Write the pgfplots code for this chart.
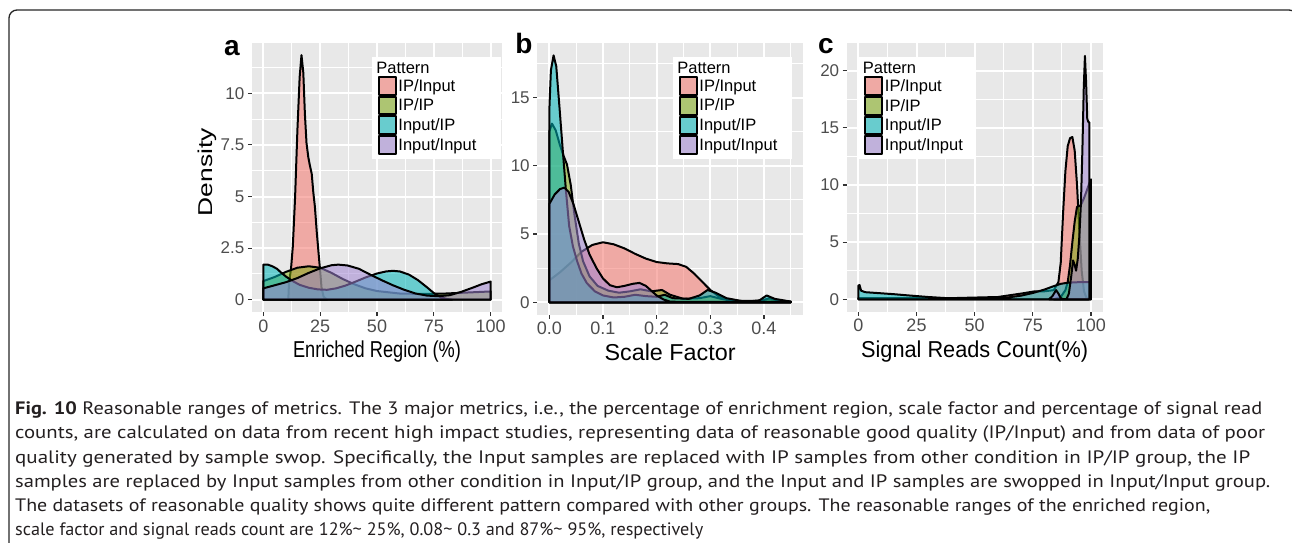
\documentclass[border=0pt]{standalone}
\usepackage{fontspec}
\setmainfont{Liberation Sans}
\newfontfamily\capfont{PT Sans}
\usepackage{graphicx}
\usepackage{pgfplots}
\pgfplotsset{compat=1.18}

\definecolor{panelbg}{RGB}{232,232,232}
\definecolor{ipinput}{HTML}{F5766D}
\definecolor{ipip}{HTML}{7DAA12}
\definecolor{inputip}{HTML}{00B6BA}
\definecolor{inputinput}{HTML}{A084D2}
\definecolor{tickgrey}{RGB}{51,51,51}
\definecolor{labelgrey}{RGB}{77,77,77}
\definecolor{captext}{RGB}{35,31,32}

\newcommand\capsize{\capfont\fontsize{18}{18}\selectfont}

\pgfplotsset{
  density panel/.style={
    scale only axis, enlargelimits=false, clip=true,
    axis background/.style={fill=panelbg},
    axis line style={draw=none},
    xmajorgrids, ymajorgrids, xminorgrids, yminorgrids,
    major grid style={white, line width=2pt},
    minor grid style={white, line width=1pt},
    tick align=outside, tick pos=left,
    major tick length=4pt, minor tick length=0pt,
    major tick style={tickgrey, line width=1.2pt},
    xticklabel style={font=\fontsize{18}{18}\selectfont, text=labelgrey},
    yticklabel style={font=\fontsize{17}{17}\selectfont, text=labelgrey},
    legend cell align=left,
    legend style={draw=none, fill=white, anchor=north west,
      font=\fontsize{16.5}{17}\selectfont, inner xsep=6pt, inner ysep=4pt,
      row sep=0pt, nodes={inner xsep=1.5pt, inner ysep=1.3pt}},
    legend image code/.code={
      \fill[panelbg, fill opacity=1] (0pt,-8.8pt) rectangle (17pt,8.8pt);
      \draw[##1] (0pt,-8.8pt) rectangle (17pt,8.8pt);},
  },
  kde/.style={draw=black, line width=2pt, line join=round, fill opacity=0.55, fill=#1},
}

\begin{document}
\begin{tikzpicture}
\useasboundingbox (0pt,0pt) rectangle (1292pt,-542pt);
\clip (0pt,0pt) rectangle (1292pt,-542pt);

% frame
\draw[line width=1.3pt, black!85, rounded corners=8pt]
  (9pt,-600pt) -- (9pt,-10pt) -- (1297pt,-10pt) -- (1297pt,-600pt);

% ---------- a: enriched region ----------
\begin{axis}[density panel,
  at={(251.9pt,-42.9pt)}, anchor=north west,
  width=250.2pt, height=269.2pt,
  xmin=-5, xmax=105, ymin=-0.6, ymax=12.44,
  xtick={0,25,50,75,100}, xticklabels={0,25,50,75,100},
  minor xtick={12.5,37.5,62.5,87.5},
  ytick={0,2.5,5,7.5,10}, yticklabels={0,2.5,5,7.5,10},
  minor ytick={1.25,3.75,6.25,8.75,11.25},
  xlabel={\resizebox{168pt}{\height}{\fontsize{23}{23}\selectfont Enriched Region (\%)}},
  xlabel style={at={(axis description cs:0.5,-0.148)}, anchor=center, inner sep=0pt},
  ylabel={\resizebox{88pt}{\height}{\fontsize{20}{20}\selectfont Density}},
  ylabel style={at={(axis description cs:-0.1775,0.52)}, anchor=center, inner sep=0pt},
  legend style={at={(axis description cs:0.479,0.949)}},
  legend entries={\hspace*{-22pt}Pattern,IP/Input,IP/IP,Input/IP,Input/Input\hspace*{17pt}},
]
\addlegendimage{empty legend}
\addplot[kde=ipinput] table {
x y
11 0
11.3 0.8
12.2 1.5
13 2.6
14 5.0
15 8.2
16 10.8
16.8 11.85
17.6 11.0
18.3 9.0
19 7.6
19.8 6.9
20.5 6.5
21.3 6.1
22 5.2
22.7 4.5
23.5 3.3
24.2 2.4
25 1.4
25.6 0.6
26.5 0.15
28 0
} \closedcycle;
\addplot[kde=ipip] table {
x y
0 0
0 0.9
5 1.1
10 1.35
15 1.55
20 1.62
25 1.55
30 1.3
35 1.0
40 0.75
45 0.55
50 0.42
60 0.3
70 0.28
80 0.3
90 0.35
100 0.4
100 0
} \closedcycle;
\addplot[kde=inputip] table {
x y
0 0
0 1.7
2 1.7
4 1.62
6 1.5
8 1.3
10 1.12
13 0.9
16 0.72
20 0.58
24 0.5
28 0.48
32 0.55
36 0.68
40 0.85
45 1.08
50 1.27
54 1.37
57 1.4
60 1.37
64 1.22
68 0.95
72 0.6
75 0.32
78 0.12
81 0.03
83 0
} \closedcycle;
\addplot[kde=inputinput] table {
x y
0 0
0 0.55
5 0.7
10 0.85
15 1.05
20 1.3
25 1.52
30 1.67
33 1.7
37 1.66
42 1.5
47 1.22
52 0.95
57 0.7
62 0.48
67 0.3
72 0.2
77 0.17
82 0.22
87 0.38
92 0.58
96 0.75
100 0.88
100 0
} \closedcycle;
\end{axis}

% ---------- b: scale factor ----------
\begin{axis}[density panel,
  at={(537.2pt,-43.1pt)}, anchor=north west,
  width=265.7pt, height=271.5pt,
  xmin=-0.0225, xmax=0.4725, ymin=-0.905, ymax=19.0,
  xtick={0,0.1,0.2,0.3,0.4}, xticklabels={0.0,0.1,0.2,0.3,0.4},
  minor xtick={0.05,0.15,0.25,0.35,0.45},
  ytick={0,5,10,15}, yticklabels={0,5,10,15},
  minor ytick={2.5,7.5,12.5,17.5},
  xlabel={\resizebox{131pt}{\height}{\fontsize{23}{23}\selectfont Scale Factor}},
  xlabel style={at={(axis description cs:0.5,-0.138)}, anchor=center, inner sep=0pt},
  legend style={at={(axis description cs:0.51,0.95)}},
  legend entries={\hspace*{-22pt}Pattern,IP/Input,IP/IP,Input/IP,Input/Input\hspace*{7pt}},
]
\addlegendimage{empty legend}
\addplot[kde=ipinput] table {
x y
0 0
0 1.6
0.02 2.2
0.04 2.9
0.06 3.7
0.08 4.2
0.1 4.4
0.12 4.25
0.14 3.95
0.16 3.55
0.18 3.2
0.2 2.95
0.22 2.85
0.24 2.8
0.255 2.6
0.27 2.1
0.285 1.5
0.3 0.9
0.315 0.45
0.33 0.2
0.35 0.1
0.38 0.1
0.41 0.2
0.43 0.1
0.45 0.05
0.45 0
} \closedcycle;
\addplot[kde=ipip] table {
x y
0 0
0 12.5
0.005 13.1
0.012 12.6
0.02 11.5
0.027 10.7
0.033 10.1
0.04 8.6
0.047 6.4
0.055 4.3
0.063 3.0
0.075 1.9
0.09 1.2
0.11 0.85
0.13 0.7
0.15 0.8
0.17 0.95
0.19 0.8
0.21 0.9
0.225 0.55
0.25 0.25
0.28 0.3
0.3 0.45
0.32 0.25
0.35 0.05
0.39 0.05
0.41 0.3
0.43 0.1
0.45 0.02
0.45 0
} \closedcycle;
\addplot[kde=inputip] table {
x y
0 0
0 14
0.003 17
0.008 18.1
0.013 17.3
0.019 14.3
0.025 11.2
0.031 8.2
0.037 5.6
0.044 4.1
0.052 3.0
0.06 2.1
0.07 1.4
0.085 0.8
0.1 0.5
0.12 0.35
0.14 0.4
0.16 0.55
0.18 0.45
0.2 0.4
0.215 0.55
0.23 0.3
0.26 0.25
0.28 0.5
0.295 0.9
0.31 0.7
0.33 0.3
0.36 0.08
0.39 0.1
0.405 0.5
0.42 0.25
0.45 0.05
0.45 0
} \closedcycle;
\addplot[kde=inputinput] table {
x y
0 0
0 7.2
0.01 7.9
0.02 8.3
0.028 8.4
0.036 8.1
0.045 7.2
0.055 5.9
0.065 4.6
0.075 3.5
0.088 2.5
0.1 1.75
0.113 1.25
0.126 1.1
0.14 1.2
0.155 1.35
0.168 1.42
0.18 1.2
0.19 0.85
0.2 0.5
0.213 0.2
0.225 0.05
0.25 0.02
0.35 0.02
0.45 0.02
0.45 0
} \closedcycle;
\end{axis}

% ---------- c: signal reads count ----------
\begin{axis}[density panel,
  at={(846.7pt,-42.5pt)}, anchor=north west,
  width=255.9pt, height=269pt,
  xmin=-5, xmax=105, ymin=-1.07, ymax=22.47,
  xtick={0,25,50,75,100}, xticklabels={0,25,50,75,100},
  minor xtick={12.5,37.5,62.5,87.5},
  ytick={0,5,10,15,20}, yticklabels={0,5,10,15,20},
  minor ytick={2.5,7.5,12.5,17.5},
  xlabel={\resizebox{227pt}{\height}{\fontsize{23}{23}\selectfont Signal Reads Count(\%)}},
  xlabel style={at={(axis description cs:0.5,-0.1506)}, anchor=center, inner sep=0pt},
  legend style={at={(axis description cs:0.045,0.947)}},
  legend entries={\hspace*{-22pt}Pattern,IP/Input,IP/IP,Input/IP,Input/Input\hspace*{4pt}},
]
\addlegendimage{empty legend}
\addplot[kde=ipinput] table {
x y
0 0
0 0.1
20 0.1
40 0.1
60 0.2
70 0.5
76 0.7
80 0.7
84 0.8
86 1.5
87 3.2
88 7.5
89 11.2
90 13.4
91 14.1
92 14.2
93 13.0
94 10.0
95 6.0
96 2.5
97 0.7
98 0.15
99 0
} \closedcycle;
\addplot[kde=ipip] table {
x y
84 0
87 0.2
89 0.8
90 1.5
91 3.0
92 5.0
93 6.8
94 8.1
95.5 8.2
96.7 8.7
98 9.4
99 10.0
100 10.5
100 0
} \closedcycle;
\addplot[kde=inputip] table {
x y
0 0
0 1.2
0.5 1.25
1.2 0.75
3 0.62
8 0.55
15 0.45
22 0.33
30 0.2
38 0.1
45 0.05
52 0.04
58 0.07
64 0.15
70 0.32
75 0.55
80 0.85
84 1.15
87 1.35
90 1.45
95 1.5
100 1.5
100 0
} \closedcycle;
\addplot[kde=inputinput] table {
x y
82 0
83.5 0.3
85 0.8
86 0.5
87 0.1
88 0.02
89.5 0.02
90.5 0.5
91.5 2.0
92.3 3.4
93 3.0
93.6 2.5
94.3 3.5
95 5.5
95.7 8.5
96.3 13
96.9 18.5
97.4 21.3
97.9 19
98.4 15.8
98.9 15.5
99.3 15.5
99.3 0
} \closedcycle;
\end{axis}

% panel letters
\node[anchor=base, inner sep=0pt, font=\bfseries\fontsize{28}{28}\selectfont] at (232pt,-55pt) {a};
\node[anchor=base, inner sep=0pt, font=\bfseries\fontsize{28}{28}\selectfont] at (524pt,-53pt) {b};
\node[anchor=base, inner sep=0pt, font=\bfseries\fontsize{28}{28}\selectfont] at (826pt,-53pt) {c};

% caption, one node per line
\begin{scope}[every node/.style={anchor=base west, inner sep=0pt, text=captext}]
\node at (15pt,-414pt) {\resizebox{1247pt}{\height}{\capsize \textbf{Fig. 10} Reasonable ranges of metrics. The 3 major metrics, i.e., the percentage of enrichment region, scale factor and percentage of signal read}};
\node at (15pt,-438pt) {\resizebox{1250pt}{\height}{\capsize counts, are calculated on data from recent high impact studies, representing data of reasonable good quality (IP/Input) and from data of poor}};
\node at (15pt,-463pt) {\resizebox{1235pt}{\height}{\capsize quality generated by sample swop. Specifically, the Input samples are replaced with IP samples from other condition in IP/IP group, the IP}};
\node at (15pt,-487pt) {\resizebox{1255pt}{\height}{\capsize samples are replaced by Input samples from other condition in Input/IP group, and the Input and IP samples are swopped in Input/Input group.}};
\node at (15pt,-511pt) {\resizebox{1195pt}{\height}{\capsize The datasets of reasonable quality shows quite different pattern compared with other groups. The reasonable ranges of the enriched region,}};
\node at (15pt,-535pt) {\resizebox{688pt}{\height}{\capsize scale factor and signal reads count are 12\%\textasciitilde{} 25\%, 0.08\textasciitilde{} 0.3 and 87\%\textasciitilde{} 95\%, respectively}};
\end{scope}
\end{tikzpicture}
\end{document}
